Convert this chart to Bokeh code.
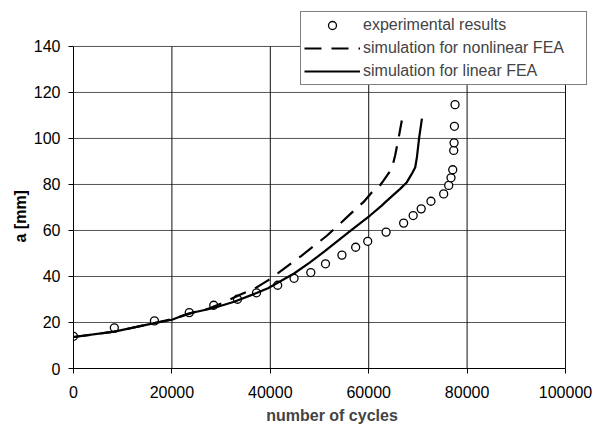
from bokeh.plotting import figure
from bokeh.models import FixedTicker, Range1d, Legend, LegendItem, NumeralTickFormatter, Title
from bokeh.embed import file_html
from bokeh.resources import INLINE

# experimental results
exp_cycles = [0, 8300, 16450, 23530, 28500, 33330, 37200, 41500, 44830, 48230,
              51220, 54560, 57350, 59800, 63530, 67100, 69040, 70670, 72650,
              75240, 76260, 76730, 77080, 77280, 77350, 77420, 77550]
exp_a = [14.0, 17.7, 20.7, 24.3, 27.5, 30.1, 32.9, 36.2, 39.2, 41.7,
         45.5, 49.3, 52.7, 55.3, 59.3, 63.2, 66.5, 69.4, 72.7,
         75.9, 79.6, 82.9, 86.4, 94.8, 98.1, 105.3, 114.7]

# simulation for nonlinear FEA
nl_cycles = [0, 8300, 16450, 20000, 24550, 27280, 30680, 33940, 36800, 39530,
             41570, 44960, 46330, 50060, 51430, 54490, 56180, 58920, 60610,
             62200, 63000, 64690, 65370, 66050, 66730]
nl_a = [13.7, 16.0, 19.8, 21.4, 24.5, 25.9, 28.8, 32.2, 34.7, 38.3,
        41.5, 46.9, 49.0, 55.3, 57.6, 63.6, 67.0, 72.3, 76.5,
        79.3, 81.7, 86.8, 92.6, 99.9, 107.8]

# simulation for linear FEA
lin_cycles = [0, 8300, 15710, 20000, 23200, 28500, 32650, 37200, 39530, 44830,
              48000, 51080, 56530, 60270, 62650, 63330, 66390, 67760, 68780,
              69460, 69800, 70270, 70820]
lin_a = [13.7, 16.0, 19.4, 21.2, 23.8, 26.3, 29.0, 32.8, 34.9, 41.3,
         46.0, 51.0, 60.3, 66.5, 70.8, 72.2, 78.1, 81.0, 84.7,
         87.5, 91.9, 100.6, 108.6]

x_ticks = [0, 20000, 40000, 60000, 80000, 100000]
y_ticks = [0, 20, 40, 60, 80, 100, 120, 140]

FONT = "Liberation Sans"

# frame extends a bit beyond the axes so the legend (which overlaps the
# top-right corner of the chart) is not clipped
X_MAX_VIEW = 105080
Y_MAX_VIEW = 156.5

p = figure(width=595, height=429, output_backend="svg", toolbar_location=None,
           x_range=Range1d(0, X_MAX_VIEW), y_range=Range1d(0, Y_MAX_VIEW),
           min_border_left=73, min_border_right=5, min_border_top=8,
           min_border_bottom=61)
p.outline_line_color = None
p.background_fill_color = "white"
p.xgrid.visible = False
p.ygrid.visible = False

p.xaxis.ticker = FixedTicker(ticks=x_ticks)
p.yaxis.ticker = FixedTicker(ticks=y_ticks)
p.xaxis.formatter = NumeralTickFormatter(format="0")
p.yaxis.formatter = NumeralTickFormatter(format="0")
p.xaxis.bounds = (x_ticks[0], x_ticks[-1])
p.yaxis.bounds = (y_ticks[0], y_ticks[-1])
p.xaxis.axis_label = "number of cycles"
for ax in (p.xaxis, p.yaxis):
    ax.axis_label_text_font = FONT
    ax.axis_label_text_font_style = "bold"
    ax.axis_label_text_font_size = "16px"
    ax.major_label_text_font = FONT
    ax.major_label_text_font_size = "16px"
    ax.major_label_text_color = "black"
    ax.axis_line_color = "black"
    ax.major_tick_line_color = "black"
    ax.major_tick_in = 0
    ax.major_tick_out = 5
    ax.minor_tick_line_color = None
p.xaxis.major_label_standoff = 12
p.xaxis.axis_label_standoff = 6
p.yaxis.major_label_standoff = 8

# y-axis title, centred on the 0-140 axis (not on the extended frame)
ytitle = Title(text="a  [mm]", align="left", offset=126,
               text_font=FONT, text_font_size="16px", text_font_style="bold",
               text_color="black", standoff=4)
p.add_layout(ytitle, "left")

# grid lines limited to the axes' extent
h_y = y_ticks[1:]
p.segment(x0=[x_ticks[0]] * len(h_y), y0=h_y, x1=[x_ticks[-1]] * len(h_y), y1=h_y,
          line_color="#555555", line_width=1)
v_x = x_ticks[1:]
p.segment(x0=v_x, y0=[y_ticks[0]] * len(v_x), x1=v_x, y1=[y_ticks[-1]] * len(v_x),
          line_color="#111111", line_width=1)

r_exp = p.scatter(exp_cycles, exp_a, marker="circle", size=8,
                  fill_color="white", line_color="black", line_width=1.3)
r_nl = p.line(nl_cycles, nl_a, line_color="black", line_width=2.2,
              line_dash="17 10")
r_lin = p.line(lin_cycles, lin_a, line_color="black", line_width=2.2)

legend = Legend(items=[
    LegendItem(label="experimental results", renderers=[r_exp]),
    LegendItem(label="simulation for nonlinear FEA", renderers=[r_nl]),
    LegendItem(label="simulation for linear FEA", renderers=[r_lin]),
], location=(227, 283))
legend.label_text_font = FONT
legend.label_text_font_size = "16px"
legend.label_height = 20
legend.glyph_height = 20
legend.glyph_width = 56
legend.spacing = 3
legend.padding = 3
legend.margin = 0
legend.label_standoff = 3
legend.label_width = 220
legend.border_line_color = "black"
legend.border_line_width = 1
legend.background_fill_color = "white"
legend.background_fill_alpha = 1.0
p.add_layout(legend, "center")

open("out.html", "w").write(file_html(p, INLINE))
